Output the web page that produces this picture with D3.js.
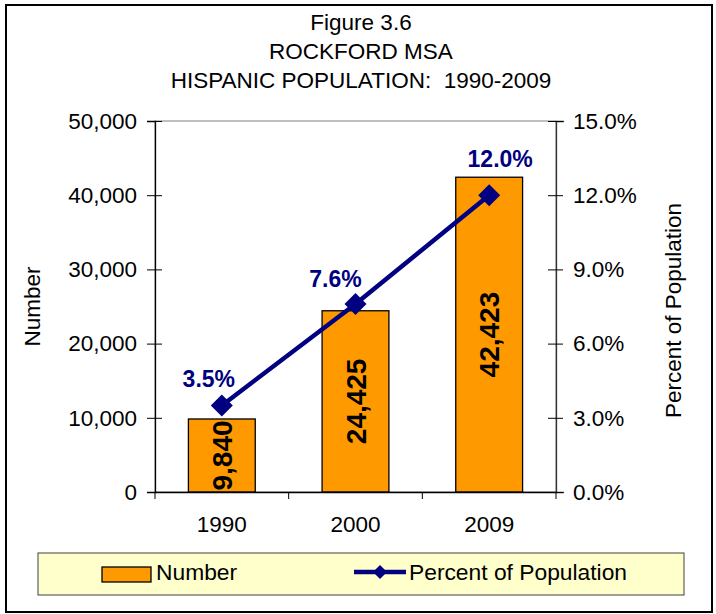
<!DOCTYPE html>
<html><head><meta charset="utf-8">
<script src="https://cdn.jsdelivr.net/npm/d3@7"></script>
<style>
body{margin:0;background:#fff;}
svg{display:block;font-family:"Liberation Sans",Arial,sans-serif;}
text{white-space:pre;}
</style></head>
<body><svg id="c" width="716" height="614"></svg>
<script>
const titleLines = ["Figure 3.6", "ROCKFORD MSA", "HISPANIC POPULATION:  1990-2009"];
const categories = ["1990", "2000", "2009"];
const numberValues = [9840, 24425, 42423];
const percentValues = [3.5, 7.6, 12.0];
const leftTicks = [0, 10000, 20000, 30000, 40000, 50000];
const rightTicks = [0, 3, 6, 9, 12, 15];
const seriesNames = ["Number", "Percent of Population"];
const axisTitles = ["Number", "Percent of Population"];

const svg = d3.select("#c");
const pL = 155, pR = 556, pT = 121, pB = 492;
const FS = 22.5;

svg.append("rect").attr("x", 6).attr("y", 5).attr("width", 706).attr("height", 607)
  .attr("fill", "#fff").attr("stroke", "#000").attr("stroke-width", 2);

// titles
svg.selectAll("text.title").data(titleLines).enter().append("text")
  .attr("class", "title").attr("x", 361).attr("y", (d, i) => 30 + i * 29)
  .attr("text-anchor", "middle").attr("font-size", FS).attr("fill", "#000").text(d => d);

const x = d3.scaleBand().domain(categories).range([pL, pR]).paddingInner(0).paddingOuter(0);
const yL = d3.scaleLinear().domain([0, 50000]).range([pB, pT]);
const yR = d3.scaleLinear().domain([0, 15]).range([pB, pT]);

// plot area
svg.append("rect").attr("x", pL).attr("y", pT).attr("width", pR - pL).attr("height", pB - pT)
  .attr("fill", "#fff").attr("stroke", "#808080").attr("stroke-width", 1);

// bars
const bw = x.bandwidth() * 0.5;
svg.selectAll("rect.bar").data(numberValues).enter().append("rect")
  .attr("class", "bar")
  .attr("x", (d, i) => x(categories[i]) + (x.bandwidth() - bw) / 2)
  .attr("y", d => yL(d)).attr("width", bw).attr("height", d => yL(0) - yL(d))
  .attr("fill", "#FF9900").attr("stroke", "#000").attr("stroke-width", 1.3);

// left axis
const fmt = d3.format(",");
const gL = svg.append("g").attr("transform", `translate(${pL},0)`)
  .call(d3.axisLeft(yL).tickValues(leftTicks).tickFormat(d => fmt(d)).tickSize(8).tickPadding(10));
gL.select(".domain").attr("stroke", "#000").attr("stroke-width", 1.3);
gL.selectAll(".tick line").attr("x2", -8).attr("x1", 7).attr("stroke", "#000");
gL.selectAll(".tick text").attr("font-size", FS).attr("fill", "#000").attr("font-family", "Liberation Sans, Arial, sans-serif").attr("x", -18);

// right axis
const gR = svg.append("g").attr("transform", `translate(${pR},0)`)
  .call(d3.axisRight(yR).tickValues(rightTicks).tickFormat(d => d.toFixed(1) + "%").tickSize(8).tickPadding(10));
gR.select(".domain").attr("stroke", "#333").attr("stroke-width", 1.3);
gR.selectAll(".tick line").attr("x1", -8).attr("x2", 7).attr("stroke", "#000");
gR.selectAll(".tick text").attr("font-size", FS).attr("fill", "#000").attr("font-family", "Liberation Sans, Arial, sans-serif").attr("x", 17);

// bottom axis
const gB = svg.append("g").attr("transform", `translate(0,${pB})`)
  .call(d3.axisBottom(x).tickSize(0).tickPadding(24));
gB.select(".domain").attr("stroke", "#000").attr("stroke-width", 1.3);
gB.selectAll(".tick text").attr("font-size", FS).attr("fill", "#000").attr("font-family", "Liberation Sans, Arial, sans-serif");
const bounds = categories.map(c => x(c)).concat([pR]);
gB.selectAll("line.bt").data(bounds).enter().append("line").attr("class", "bt")
  .attr("x1", d => d).attr("x2", d => d).attr("y1", 0).attr("y2", 7).attr("stroke", "#000");

// axis titles
svg.append("text").attr("transform", `translate(40,${(pT + pB) / 2}) rotate(-90)`)
  .attr("text-anchor", "middle").attr("font-size", FS).text(axisTitles[0]);
svg.append("text").attr("transform", `translate(681,${(pT + pB) / 2 + 4}) rotate(-90)`)
  .attr("text-anchor", "middle").attr("font-size", FS).text(axisTitles[1]);

// bar labels
svg.selectAll("text.bl").data(numberValues).enter().append("text").attr("class", "bl")
  .attr("transform", (d, i) => `translate(${x(categories[i]) + x.bandwidth() / 2 + 10},${(yL(d) + yL(0)) / 2}) rotate(-90)`)
  .attr("text-anchor", "middle").attr("font-size", 28).attr("font-weight", "bold").attr("fill", "#000")
  .text(d => fmt(d));

// line
const cx = i => x(categories[i]) + x.bandwidth() / 2;
const line = d3.line().x((d, i) => cx(i)).y(d => yR(d));
svg.append("path").datum(percentValues).attr("d", line).attr("fill", "none")
  .attr("stroke", "#000080").attr("stroke-width", 4.5);
const diamond = (r) => `M0,${-r}L${r},0L0,${r}L${-r},0Z`;
svg.selectAll("path.mk").data(percentValues).enter().append("path").attr("class", "mk")
  .attr("transform", (d, i) => `translate(${cx(i)},${yR(d)})`).attr("d", diamond(11)).attr("fill", "#000080");

// percent labels
const lblDx = [-13, -20, 11], lblDy = [-18, -17, -28];
svg.selectAll("text.pl").data(percentValues).enter().append("text").attr("class", "pl")
  .attr("x", (d, i) => cx(i) + lblDx[i]).attr("y", (d, i) => yR(d) + lblDy[i])
  .attr("text-anchor", "middle").attr("font-size", 23).attr("font-weight", "bold").attr("fill", "#000080")
  .text(d => d.toFixed(1) + "%");

// legend
svg.append("rect").attr("x", 38).attr("y", 553).attr("width", 646).attr("height", 42)
  .attr("fill", "#FFFFCC").attr("stroke", "#404040").attr("stroke-width", 1);
svg.append("rect").attr("x", 102).attr("y", 567).attr("width", 49).attr("height", 15)
  .attr("fill", "#FF9900").attr("stroke", "#000").attr("stroke-width", 1.3);
svg.append("text").attr("x", 156).attr("y", 580).attr("font-size", 22.8).text(seriesNames[0]);
svg.append("line").attr("x1", 354).attr("x2", 406).attr("y1", 572).attr("y2", 572)
  .attr("stroke", "#000080").attr("stroke-width", 4.5);
svg.append("path").attr("transform", "translate(380,572)").attr("d", diamond(7)).attr("fill", "#000080");
svg.append("text").attr("x", 409).attr("y", 580).attr("font-size", 22.8).text(seriesNames[1]);
</script></body></html>
